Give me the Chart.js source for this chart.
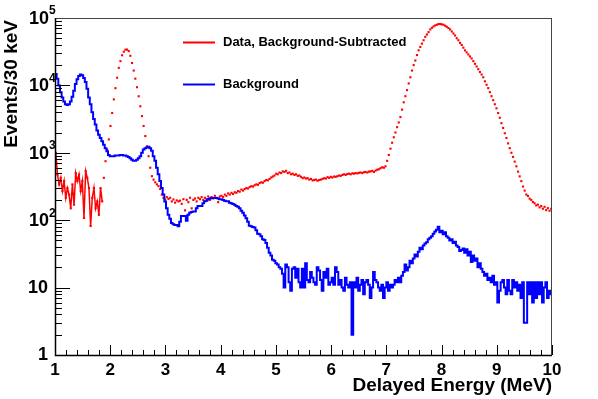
<!DOCTYPE html>
<html>
<head>
<meta charset="utf-8">
<script src="https://cdn.jsdelivr.net/npm/chart.js@4.4.0/dist/chart.umd.min.js"></script>
<style>
  html, body { margin: 0; padding: 0; background: #fff; }
</style>
</head>
<body>
<canvas id="energyChart" width="598" height="399"></canvas>
<script>
// 30 keV bins from 1 to 10 MeV (300 bins), counts per bin
const binLow = 1.0;
const binWidth = 0.03;

const dataCounts = [
  1000, 475, 340, 425, 270, 380, 215, 300, 240, 150,
  340, 170, 500, 380, 475, 270, 380, 108, 535, 425,
  300, 82, 215, 300, 150, 190, 120, 300, 190, 425,
  750, 1120, 1580, 2500, 3900, 6200, 9100, 13000, 18200, 22900,
  28000, 31600, 33900, 34000, 32300, 27500, 21500, 16600, 12600, 9400,
  6900, 4900, 3500, 2500, 1770, 1250, 890, 600, 450, 400,
  365, 340, 320, 290, 240, 215, 203, 220, 207, 215,
  190, 203, 182, 197, 190, 195, 175, 205, 140, 200,
  185, 215, 150, 200, 210, 190, 215, 205, 220, 200,
  215, 205, 225, 200, 220, 210, 230, 215, 185, 225,
  230, 220, 240, 230, 250, 240, 255, 245, 260, 255,
  270, 265, 285, 275, 290, 300, 295, 310, 320, 315,
  330, 340, 335, 355, 365, 360, 380, 395, 390, 410,
  430, 445, 460, 490, 480, 510, 500, 530, 520, 540,
  500, 510, 480, 490, 470, 480, 455, 460, 440, 420,
  430, 415, 420, 400, 410, 390, 395, 400, 385, 395,
  400, 410, 420, 415, 435, 425, 440, 430, 445, 440,
  450, 460, 455, 470, 480, 470, 485, 490, 480, 495,
  490, 500, 495, 505, 510, 500, 515, 520, 510, 525,
  530, 540, 520, 545, 560, 570, 590, 610, 600, 630,
  760, 930, 1150, 1410, 1700, 2000, 2400, 2820, 3390, 4370,
  5620, 6920, 8510, 10700, 13200, 16600, 20000, 23400, 28200, 33100,
  37200, 41700, 46800, 52500, 56900, 61700, 67600, 71600, 75000, 77600,
  79400, 81300, 81300, 80400, 79400, 76700, 74100, 70800, 67600, 63100,
  58900, 55000, 50100, 46800, 42700, 39800, 36300, 33100, 30900, 28800,
  26900, 25100, 22900, 20900, 19100, 17400, 15800, 14500, 13200, 11500,
  10200, 9120, 7940, 6920, 6030, 5250, 4570, 3890, 3310, 2750,
  2340, 1950, 1660, 1380, 1170, 1000, 870, 740, 630, 525,
  447, 380, 316, 275, 240, 229, 209, 200, 186, 178,
  166, 170, 155, 162, 148, 158, 141, 151, 138, 148
];

const bkgCounts = [
  14800, 12600, 10000, 7940, 6610, 5750, 5250, 5130, 5250, 5750,
  6760, 8320, 10500, 12300, 13800, 14500, 14100, 12900, 11200, 8910,
  6610, 5250, 3980, 3160, 2630, 2140, 1860, 1660, 1480, 1320,
  1170, 1050, 930, 890, 890, 890, 910, 910, 910, 930,
  930, 910, 910, 890, 870, 830, 790, 760, 760, 790,
  830, 890, 1000, 1120, 1170, 1200, 1230, 1170, 1070, 890,
  760, 600, 480, 380, 300, 240, 190, 150, 120, 105,
  91, 87, 85, 85, 81, 95, 115, 115, 115, 98,
  120, 129, 132, 135, 135, 151, 162, 162, 162, 178,
  191, 195, 204, 209, 214, 214, 214, 214, 209, 204,
  204, 200, 195, 191, 191, 182, 178, 174, 170, 162,
  158, 151, 138, 129, 117, 107, 95, 83, 81, 79,
  78, 71, 63, 62, 58, 52, 51, 46, 39, 33,
  30, 26, 25, 23, 22, 20, 19, 16, 10, 22,
  20, 12, 9, 19, 20, 14, 19, 12, 10, 19,
  10, 23, 13, 12, 17, 14, 12, 11, 20, 18,
  13, 9, 17, 14, 19, 11, 12, 14, 11, 20,
  17, 11, 13, 10, 9, 14, 11, 10, 12, 2,
  12, 10, 14, 9, 11, 13, 8, 12, 13, 11,
  7, 10, 17, 13, 12, 10, 9, 11, 7, 10,
  12, 9, 11, 10, 11, 13, 12, 14, 12, 15,
  17, 22, 18, 20, 25, 23, 27, 31, 29, 34,
  39, 37, 42, 45, 47, 52, 55, 58, 63, 68,
  72, 80, 66, 70, 62, 66, 58, 55, 50, 52,
  46, 48, 42, 40, 35, 36, 38, 33, 37, 30,
  34, 24, 30, 25, 27, 20, 23, 19, 17, 15,
  16, 13, 14, 12, 15, 11, 12, 6, 9, 12,
  13, 10, 8, 13, 9, 8, 13, 10, 12, 9,
  11, 7, 12, 3, 3, 12, 8, 12, 6, 12,
  7, 12, 8, 12, 6, 10, 12, 7, 9, 8
];

// low-energy bins where the data is noisy (drawn as error-bar-like strokes)
const noisyBins = 29;

const xTickLabels = ['1', '2', '3', '4', '5', '6', '7', '8', '9', '10'];
const yTickValues = [1, 10, 100, 1000, 10000, 100000];
const legendLabels = ['Data, Background-Subtracted', 'Background'];
const legendColors = ['#ff0000', '#0000ff'];
const xTitle = 'Delayed Energy (MeV)';
const yTitle = 'Events/30 keV';

const toPoints = arr => arr.map((c, i) => ({ x: binLow + binWidth * (i + 0.5), y: c }));
const dataPoints = toPoints(dataCounts);
const bkgPoints = toPoints(bkgCounts);

const FONT = '"Liberation Sans", Arial, Helvetica, sans-serif';

// ROOT-like frame, inner ticks, labels and legend
const rootStyle = {
  id: 'rootStyle',
  afterDraw(chart) {
    const { ctx, chartArea: a, scales: { x, y } } = chart;
    ctx.save();

    // frame
    ctx.strokeStyle = '#444';
    ctx.lineWidth = 1;
    ctx.strokeRect(a.left + 0.5, a.top + 0.5, a.right - a.left - 1, a.bottom - a.top);
    ctx.strokeStyle = '#000';
    ctx.lineWidth = 1.5;
    ctx.beginPath();
    ctx.moveTo(a.left + 0.5, a.top);
    ctx.lineTo(a.left + 0.5, a.bottom + 0.5);
    ctx.lineTo(a.right, a.bottom + 0.5);
    ctx.stroke();

    // x ticks (major every 1 MeV, minor every 0.2 MeV)
    ctx.lineWidth = 1;
    ctx.strokeStyle = '#000';
    ctx.beginPath();
    for (let i = 0; i <= 45; i++) {
      const px = Math.round(x.getPixelForValue(1 + i * 0.2)) + 0.5;
      const len = i % 5 === 0 ? 10 : 5;
      ctx.moveTo(px, a.bottom);
      ctx.lineTo(px, a.bottom - len);
    }
    // y ticks (decades major, 2..9 minor)
    for (let d = 0; d < 5; d++) {
      for (let m = 1; m <= 9; m++) {
        const py = Math.round(y.getPixelForValue(m * Math.pow(10, d))) + 0.5;
        const len = m === 1 ? 15 : 7;
        ctx.moveTo(a.left, py);
        ctx.lineTo(a.left + len, py);
      }
    }
    ctx.stroke();

    // x tick labels
    ctx.fillStyle = '#000';
    ctx.font = 'bold 17px ' + FONT;
    ctx.textAlign = 'center';
    ctx.textBaseline = 'top';
    xTickLabels.forEach((lab, i) => {
      ctx.fillText(lab, x.getPixelForValue(i + 1), a.bottom + 7);
    });

    // y tick labels with superscript exponents
    ctx.textBaseline = 'middle';
    yTickValues.forEach((v, i) => {
      const py = y.getPixelForValue(v);
      ctx.font = 'bold 18px ' + FONT;
      if (i < 2) {
        ctx.textAlign = 'right';
        ctx.fillText(String(v), a.left - 7, py);
      } else {
        ctx.textAlign = 'right';
        ctx.fillText('10', a.left - 6, py + 1);
        ctx.font = 'bold 12px ' + FONT;
        ctx.textAlign = 'left';
        ctx.fillText(String(i), a.left - 6, py - 7);
      }
    });

    // axis titles
    ctx.font = 'bold 19px ' + FONT;
    ctx.textAlign = 'right';
    ctx.textBaseline = 'alphabetic';
    ctx.fillText(xTitle, a.right, a.bottom + 36);

    ctx.save();
    ctx.translate(17, a.top + 2);
    ctx.rotate(-Math.PI / 2);
    ctx.textAlign = 'right';
    ctx.textBaseline = 'alphabetic';
    ctx.fillText(yTitle, 0, 0);
    ctx.restore();

    // legend
    ctx.font = 'bold 13px ' + FONT;
    ctx.textAlign = 'left';
    ctx.textBaseline = 'middle';
    legendLabels.forEach((lab, i) => {
      const ly = 42.5 + i * 42;
      ctx.strokeStyle = legendColors[i];
      ctx.lineWidth = 2;
      ctx.beginPath();
      ctx.moveTo(183, ly);
      ctx.lineTo(215, ly);
      ctx.stroke();
      ctx.fillStyle = '#000';
      ctx.fillText(lab, 223, ly);
    });

    ctx.restore();
  }
};

const ctx = document.getElementById('energyChart').getContext('2d');

new Chart(ctx, {
  type: 'line',
  data: {
    datasets: [
      {
        label: 'Background',
        data: bkgPoints,
        borderColor: '#0000ff',
        borderWidth: 2,
        pointRadius: 0,
        stepped: 'middle',
        fill: false,
        order: 0
      },
      {
        label: 'Data (noisy region)',
        data: dataPoints.slice(0, noisyBins),
        borderColor: '#ff0000',
        borderWidth: 1.5,
        pointRadius: 0,
        fill: false,
        order: 1
      },
      {
        label: 'Data, Background-Subtracted',
        data: dataPoints,
        showLine: false,
        pointStyle: 'rect',
        pointRadius: 1.5,
        pointBorderWidth: 0,
        pointBackgroundColor: '#ff0000',
        borderColor: '#ff0000',
        order: 2
      }
    ]
  },
  options: {
    responsive: false,
    animation: false,
    devicePixelRatio: 1,
    layout: { padding: { left: 55, right: 46, top: 18, bottom: 44 } },
    plugins: {
      legend: { display: false },
      tooltip: { enabled: false }
    },
    scales: {
      x: { type: 'linear', min: 1, max: 10, display: false },
      y: { type: 'logarithmic', min: 1, max: 100000, display: false }
    }
  },
  plugins: [rootStyle]
});
</script>
</body>
</html>
